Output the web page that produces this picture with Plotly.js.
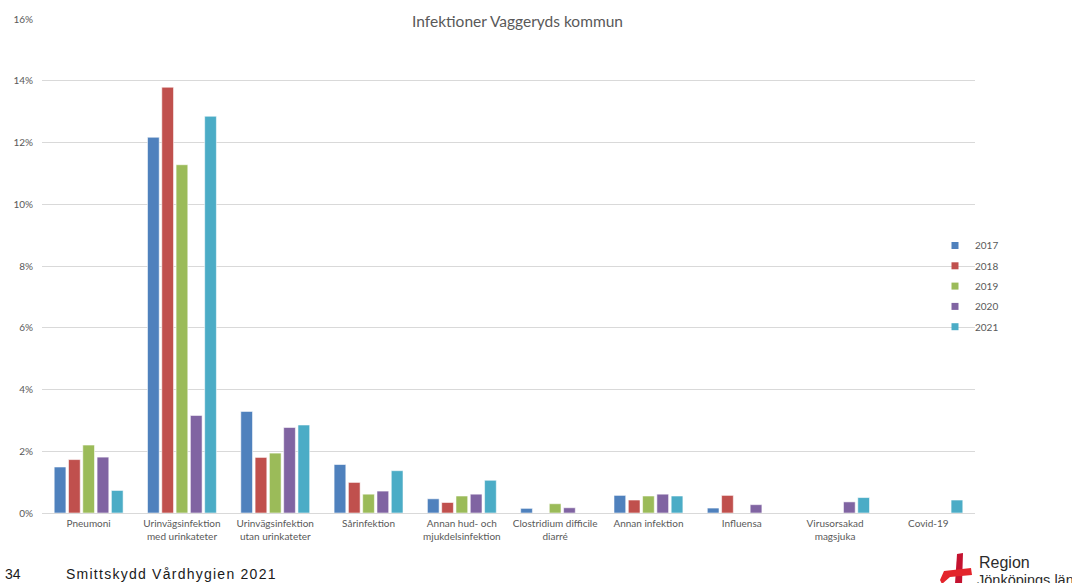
<!DOCTYPE html>
<html>
<head>
<meta charset="utf-8">
<script src="https://cdn.plot.ly/plotly-3.0.1.min.js"></script>
<style>
  html, body { margin: 0; padding: 0; background: #ffffff; }
  #chart { width: 1072px; height: 583px; }
</style>
</head>
<body>
<div id="chart"></div>
<script>
// Infection categories (x axis)
const categories = [
  'Pneumoni',
  'Urinvägsinfektion<br>med urinkateter',
  'Urinvägsinfektion<br>utan urinkateter',
  'Sårinfektion',
  'Annan hud- och<br>mjukdelsinfektion',
  'Clostridium difficile<br>diarré',
  'Annan infektion',
  'Influensa',
  'Virusorsakad<br>magsjuka',
  'Covid-19'
];

// Share of residents with each infection, per year (fractions)
const years = ['2017', '2018', '2019', '2020', '2021'];
const v2017 = [0.0149, 0.1217, 0.0329, 0.0157, 0.0046, 0.0015, 0.0057, 0.0016, 0, 0];
const v2018 = [0.0173, 0.1379, 0.0180, 0.0099, 0.0034, 0, 0.0042, 0.0057, 0, 0];
const v2019 = [0.0220, 0.1128, 0.0194, 0.0061, 0.0055, 0.0030, 0.0055, 0, 0, 0];
const v2020 = [0.0181, 0.0316, 0.0277, 0.0071, 0.0061, 0.0017, 0.0061, 0.0027, 0.0036, 0];
const v2021 = [0.0073, 0.1285, 0.0285, 0.0137, 0.0106, 0, 0.0055, 0, 0.0050, 0.0042];

const seriesValues = [v2017, v2018, v2019, v2020, v2021];
const colors = ['#4F81BD', '#C0504D', '#9BBB59', '#8064A2', '#4BACC6'];

// Plot area in page pixels, used to place the footer and logo
const PL = 42, PR = 975, PT = 19, PB = 513;
const px = x => (x - PL) / (PR - PL);
const py = y => (PB - y) / (PB - PT);

const traces = [];
years.forEach((yr, i) => {
  traces.push({
    type: 'bar',
    name: yr,
    x: categories,
    y: seriesValues[i],
    marker: { color: colors[i], line: { color: 'rgba(255,255,255,0.55)', width: 1 } },
    showlegend: false,
    hoverinfo: 'x+y+name'
  });
});
// Small square legend keys, one group each so the row spacing can be set
years.forEach((yr, i) => {
  traces.push({
    type: 'scatter',
    mode: 'markers',
    name: yr,
    legendgroup: 'g' + yr,
    x: [null],
    y: [null],
    marker: { symbol: 'square', size: 7, color: colors[i] },
    showlegend: true,
    hoverinfo: 'skip'
  });
});

const txt = '#595959';
const baseFont = 'Lato, "Open Sans", sans-serif';
const footFont = 'Liberation Sans, Arial, sans-serif';

const layout = {
  width: 1072,
  height: 583,
  margin: { l: PL, r: 1072 - PR, t: PT, b: 583 - PB, pad: 0 },
  paper_bgcolor: '#ffffff',
  plot_bgcolor: '#ffffff',
  font: { family: baseFont, size: 10, color: txt },
  barmode: 'group',
  bargap: 0.234,
  bargroupgap: 0.18,
  title: {
    text: 'Infektioner Vaggeryds kommun',
    font: { family: baseFont, size: 15.5, color: txt },
    xref: 'paper', x: px(517.5), xanchor: 'center',
    yref: 'container', y: 1 - 22 / 583, yanchor: 'middle'
  },
  xaxis: {
    type: 'category',
    showgrid: false,
    showline: false,
    ticks: '',
    ticklabelstandoff: 3,
    tickfont: { family: baseFont, size: 10, color: txt },
    fixedrange: true
  },
  yaxis: {
    range: [0, 0.16],
    dtick: 0.02,
    tickformat: '.0%',
    showgrid: true,
    gridcolor: '#D9D9D9',
    gridwidth: 1,
    zeroline: true,
    zerolinecolor: '#D9D9D9',
    zerolinewidth: 1,
    showline: false,
    ticks: '',
    ticklabelstandoff: 8,
    tickfont: { family: baseFont, size: 10, color: txt },
    fixedrange: true
  },
  legend: {
    x: px(935), xanchor: 'left',
    y: py(231), yanchor: 'top',
    bgcolor: 'rgba(0,0,0,0)',
    font: { family: baseFont, size: 10, color: txt },
    itemwidth: 30,
    tracegroupgap: 1.3
  },
  annotations: [
    {
      text: '34', xref: 'paper', yref: 'paper',
      x: px(3), y: py(574), xanchor: 'left', yanchor: 'middle',
      showarrow: false,
      font: { family: footFont, size: 14, color: '#1a1a1a' }
    },
    {
      text: '<span style="letter-spacing:1.25px">Smittskydd Vårdhygien 2021</span>',
      xref: 'paper', yref: 'paper',
      x: px(64), y: py(574), xanchor: 'left', yanchor: 'middle',
      showarrow: false,
      font: { family: footFont, size: 14, color: '#1a1a1a' }
    },
    {
      text: 'Region', xref: 'paper', yref: 'paper',
      x: px(977), y: py(562), xanchor: 'left', yanchor: 'middle',
      showarrow: false,
      font: { family: footFont, size: 16, color: '#2b2b2b' }
    },
    {
      text: 'Jönköpings län', xref: 'paper', yref: 'paper',
      x: px(975), y: py(580), xanchor: 'left', yanchor: 'middle',
      showarrow: false,
      font: { family: footFont, size: 14.5, color: '#2b2b2b' }
    }
  ],
  shapes: [
    // logo: vertical stroke
    {
      type: 'path', xref: 'paper', yref: 'paper', layer: 'above',
      path: 'M ' + px(957) + ',' + py(554) + ' L ' + px(963) + ',' + py(553) +
            ' L ' + px(962) + ',' + py(584) + ' L ' + px(955) + ',' + py(584) + ' Z',
      fillcolor: '#C4122F', line: { width: 0 }
    },
    // logo: horizontal ribbon
    {
      type: 'path', xref: 'paper', yref: 'paper', layer: 'above',
      path: 'M ' + px(944) + ',' + py(571) + ' L ' + px(971) + ',' + py(568) +
            ' L ' + px(972) + ',' + py(575) + ' L ' + px(950) + ',' + py(577) +
            ' L ' + px(942) + ',' + py(584) + ' L ' + px(940) + ',' + py(580) + ' Z',
      fillcolor: '#E3242B', line: { width: 0 }
    }
  ]
};

Plotly.newPlot('chart', traces, layout, { displayModeBar: false, staticPlot: true });
</script>
</body>
</html>
